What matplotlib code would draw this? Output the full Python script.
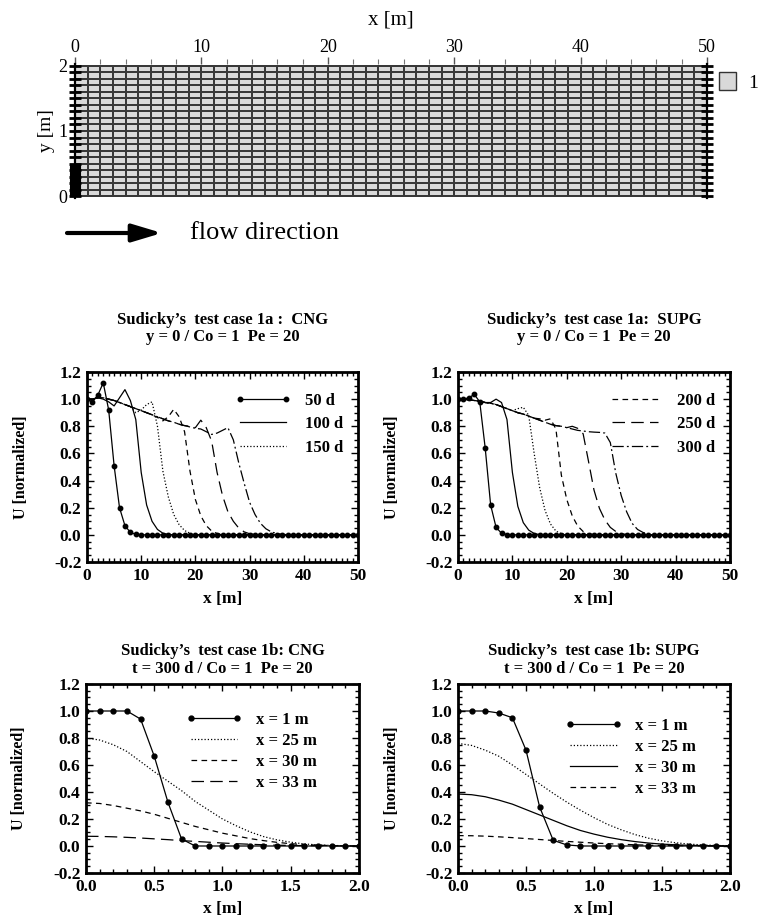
import numpy as np
import matplotlib
matplotlib.use('Agg')
import matplotlib.pyplot as plt
from matplotlib.patches import Patch
from matplotlib.colors import ListedColormap
from matplotlib.ticker import MultipleLocator, FormatStrFormatter

plt.rcParams['font.family'] = ['Liberation Serif', 'DejaVu Serif']
plt.rcParams['axes.unicode_minus'] = False

# ---------------- data ----------------
# mesh (top panel)
mesh_x_nodes = [0, 1, 2, 3, 4, 5, 6, 7, 8, 9, 10, 11, 12, 13, 14, 15, 16, 17, 18, 19, 20,
                21, 22, 23, 24, 25, 26, 27, 28, 29, 30, 31, 32, 33, 34, 35, 36, 37, 38, 39, 40,
                41, 42, 43, 44, 45, 46, 47, 48, 49, 50]
mesh_y_nodes = [0.0, 0.1, 0.2, 0.3, 0.4, 0.5, 0.6, 0.7, 0.8, 0.9, 1.0,
                1.1, 1.2, 1.3, 1.4, 1.5, 1.6, 1.7, 1.8, 1.9, 2.0]
material_ids = np.ones((len(mesh_y_nodes) - 1, len(mesh_x_nodes) - 1))
material_labels = ['1']
source_x = [0.0, 0.0]
source_y = [0.0, 0.5]

# test case 1a: profiles along y = 0
x_1a = [0, 1, 2, 3, 4, 5, 6, 7, 8, 9, 10, 11, 12, 13, 14, 15, 16, 17, 18, 19, 20,
        21, 22, 23, 24, 25, 26, 27, 28, 29, 30, 31, 32, 33, 34, 35, 36, 37, 38, 39, 40,
        41, 42, 43, 44, 45, 46, 47, 48, 49, 50]
times_1a = ['50 d', '100 d', '150 d', '200 d', '250 d', '300 d']

cng_50 = [1.00, 0.98, 1.03, 1.12, 0.92, 0.51, 0.20, 0.068, 0.018, 0.004, 0.0,
          0.0, 0.0, 0.0, 0.0, 0.0, 0.0, 0.0, 0.0, 0.0, 0.0, 0.0, 0.0, 0.0, 0.0, 0.0,
          0.0, 0.0, 0.0, 0.0, 0.0, 0.0, 0.0, 0.0, 0.0, 0.0, 0.0, 0.0, 0.0, 0.0, 0.0,
          0.0, 0.0, 0.0, 0.0, 0.0, 0.0, 0.0, 0.0, 0.0, 0.0]
cng_100 = [1.00, 1.00, 1.01, 1.00, 0.98, 0.95, 1.01, 1.07, 0.99, 0.85, 0.46,
           0.22, 0.10, 0.04, 0.012, 0.003, 0.0, 0.0, 0.0, 0.0, 0.0, 0.0, 0.0, 0.0, 0.0, 0.0,
           0.0, 0.0, 0.0, 0.0, 0.0, 0.0, 0.0, 0.0, 0.0, 0.0, 0.0, 0.0, 0.0, 0.0, 0.0,
           0.0, 0.0, 0.0, 0.0, 0.0, 0.0, 0.0, 0.0, 0.0, 0.0]
cng_150 = [1.00, 1.00, 1.01, 1.01, 1.00, 0.99, 0.975, 0.96, 0.945, 0.90, 0.92,
           0.96, 0.98, 0.80, 0.47, 0.28, 0.15, 0.075, 0.032, 0.012, 0.003,
           0.0, 0.0, 0.0, 0.0, 0.0, 0.0, 0.0, 0.0, 0.0, 0.0, 0.0, 0.0, 0.0, 0.0, 0.0,
           0.0, 0.0, 0.0, 0.0, 0.0, 0.0, 0.0, 0.0, 0.0, 0.0, 0.0, 0.0, 0.0, 0.0, 0.0]
cng_200 = [1.00, 1.00, 1.01, 1.01, 1.00, 0.99, 0.975, 0.96, 0.945, 0.93, 0.915,
           0.90, 0.885, 0.865, 0.84, 0.87, 0.925, 0.87, 0.76, 0.47, 0.26,
           0.14, 0.068, 0.028, 0.010, 0.003, 0.0, 0.0, 0.0, 0.0, 0.0,
           0.0, 0.0, 0.0, 0.0, 0.0, 0.0, 0.0, 0.0, 0.0, 0.0,
           0.0, 0.0, 0.0, 0.0, 0.0, 0.0, 0.0, 0.0, 0.0, 0.0]
cng_250 = [1.00, 1.00, 1.01, 1.01, 1.00, 0.99, 0.975, 0.96, 0.945, 0.93, 0.915,
           0.90, 0.885, 0.87, 0.855, 0.84, 0.83, 0.815, 0.805, 0.80, 0.79,
           0.845, 0.79, 0.69, 0.46, 0.29, 0.17, 0.10, 0.05, 0.022, 0.008,
           0.002, 0.0, 0.0, 0.0, 0.0, 0.0, 0.0, 0.0, 0.0, 0.0,
           0.0, 0.0, 0.0, 0.0, 0.0, 0.0, 0.0, 0.0, 0.0, 0.0]
cng_300 = [1.00, 1.00, 1.01, 1.01, 1.00, 0.99, 0.975, 0.96, 0.945, 0.93, 0.915,
           0.90, 0.885, 0.87, 0.855, 0.84, 0.83, 0.815, 0.805, 0.795, 0.785,
           0.78, 0.76, 0.74, 0.75, 0.77, 0.79, 0.70, 0.53, 0.38, 0.24,
           0.15, 0.085, 0.045, 0.022, 0.010, 0.004, 0.001, 0.0, 0.0, 0.0,
           0.0, 0.0, 0.0, 0.0, 0.0, 0.0, 0.0, 0.0, 0.0, 0.0]

supg_50 = [1.00, 1.00, 1.01, 1.035, 0.98, 0.64, 0.22, 0.055, 0.012, 0.002, 0.0,
           0.0, 0.0, 0.0, 0.0, 0.0, 0.0, 0.0, 0.0, 0.0, 0.0, 0.0, 0.0, 0.0, 0.0, 0.0,
           0.0, 0.0, 0.0, 0.0, 0.0, 0.0, 0.0, 0.0, 0.0, 0.0, 0.0, 0.0, 0.0, 0.0, 0.0,
           0.0, 0.0, 0.0, 0.0, 0.0, 0.0, 0.0, 0.0, 0.0, 0.0]
supg_100 = [1.00, 1.00, 0.995, 0.99, 0.985, 0.975, 0.975, 1.00, 0.975, 0.85, 0.46,
            0.21, 0.09, 0.035, 0.010, 0.002, 0.0, 0.0, 0.0, 0.0, 0.0,
            0.0, 0.0, 0.0, 0.0, 0.0, 0.0, 0.0, 0.0, 0.0, 0.0,
            0.0, 0.0, 0.0, 0.0, 0.0, 0.0, 0.0, 0.0, 0.0, 0.0,
            0.0, 0.0, 0.0, 0.0, 0.0, 0.0, 0.0, 0.0, 0.0, 0.0]
supg_150 = [1.00, 1.00, 0.995, 0.99, 0.985, 0.975, 0.97, 0.96, 0.945, 0.93, 0.915,
            0.93, 0.94, 0.88, 0.60, 0.35, 0.18, 0.08, 0.028, 0.008, 0.002,
            0.0, 0.0, 0.0, 0.0, 0.0, 0.0, 0.0, 0.0, 0.0, 0.0,
            0.0, 0.0, 0.0, 0.0, 0.0, 0.0, 0.0, 0.0, 0.0, 0.0,
            0.0, 0.0, 0.0, 0.0, 0.0, 0.0, 0.0, 0.0, 0.0, 0.0]
supg_200 = [1.00, 1.00, 0.995, 0.99, 0.985, 0.975, 0.97, 0.96, 0.945, 0.93, 0.915,
            0.90, 0.89, 0.875, 0.86, 0.855, 0.845, 0.855, 0.78, 0.44, 0.26,
            0.14, 0.065, 0.025, 0.008, 0.002, 0.0, 0.0, 0.0, 0.0, 0.0,
            0.0, 0.0, 0.0, 0.0, 0.0, 0.0, 0.0, 0.0, 0.0, 0.0,
            0.0, 0.0, 0.0, 0.0, 0.0, 0.0, 0.0, 0.0, 0.0, 0.0]
supg_250 = [1.00, 1.00, 0.995, 0.99, 0.985, 0.975, 0.97, 0.96, 0.945, 0.93, 0.915,
            0.90, 0.89, 0.875, 0.86, 0.845, 0.83, 0.815, 0.805, 0.80, 0.79,
            0.80, 0.785, 0.745, 0.54, 0.33, 0.195, 0.11, 0.055, 0.025, 0.009,
            0.003, 0.0, 0.0, 0.0, 0.0, 0.0, 0.0, 0.0, 0.0, 0.0,
            0.0, 0.0, 0.0, 0.0, 0.0, 0.0, 0.0, 0.0, 0.0, 0.0]
supg_300 = [1.00, 1.00, 0.995, 0.99, 0.985, 0.975, 0.97, 0.96, 0.945, 0.93, 0.915,
            0.90, 0.89, 0.875, 0.86, 0.845, 0.83, 0.815, 0.805, 0.80, 0.79,
            0.78, 0.77, 0.765, 0.76, 0.757, 0.755, 0.75, 0.68, 0.455, 0.29,
            0.17, 0.085, 0.04, 0.018, 0.006, 0.002, 0.0, 0.0, 0.0, 0.0,
            0.0, 0.0, 0.0, 0.0, 0.0, 0.0, 0.0, 0.0, 0.0, 0.0]

# test case 1b: transverse profiles at t = 300 d
y_1b = [0.0, 0.1, 0.2, 0.3, 0.4, 0.5, 0.6, 0.7, 0.8, 0.9, 1.0,
        1.1, 1.2, 1.3, 1.4, 1.5, 1.6, 1.7, 1.8, 1.9, 2.0]
labels_1b = ['x = 1 m', 'x = 25 m', 'x = 30 m', 'x = 33 m']

cng_x1 = [1.0, 1.0, 1.0, 1.0, 0.94, 0.665, 0.325, 0.052, 0.0, 0.0, 0.0,
          0.0, 0.0, 0.0, 0.0, 0.0, 0.0, 0.0, 0.0, 0.0, 0.0]
cng_x25 = [0.80, 0.785, 0.75, 0.70, 0.625, 0.55, 0.48, 0.41, 0.33, 0.265, 0.20,
           0.15, 0.105, 0.07, 0.045, 0.028, 0.015, 0.008, 0.004, 0.002, 0.0]
cng_x30 = [0.32, 0.315, 0.30, 0.28, 0.26, 0.235, 0.205, 0.175, 0.145, 0.12, 0.095,
           0.075, 0.055, 0.04, 0.027, 0.017, 0.010, 0.006, 0.003, 0.001, 0.0]
cng_x33 = [0.072, 0.071, 0.068, 0.064, 0.059, 0.053, 0.047, 0.040, 0.034, 0.028, 0.022,
           0.017, 0.013, 0.009, 0.006, 0.004, 0.003, 0.002, 0.001, 0.0, 0.0]

supg_x1 = [1.0, 1.0, 1.0, 0.985, 0.95, 0.71, 0.29, 0.042, 0.008, 0.0, 0.0,
           0.0, 0.0, 0.0, 0.0, 0.0, 0.0, 0.0, 0.0, 0.0, 0.0]
supg_x25 = [0.76, 0.745, 0.71, 0.665, 0.60, 0.53, 0.46, 0.39, 0.325, 0.265, 0.21,
            0.16, 0.12, 0.085, 0.058, 0.038, 0.024, 0.014, 0.008, 0.004, 0.002]
supg_x30 = [0.385, 0.38, 0.365, 0.34, 0.31, 0.27, 0.23, 0.19, 0.15, 0.115, 0.088,
            0.065, 0.047, 0.033, 0.022, 0.014, 0.009, 0.005, 0.003, 0.001, 0.0]
supg_x33 = [0.077, 0.076, 0.073, 0.068, 0.062, 0.055, 0.048, 0.041, 0.034, 0.028, 0.022,
            0.017, 0.013, 0.009, 0.006, 0.004, 0.003, 0.002, 0.001, 0.0, 0.0]

# ---------------- styles ----------------
SOLID = '-'
DOT = (0, (1.0, 1.6))
DASH = (0, (4.5, 3.5))
LDASH = (0, (10, 5))
DASHDOT = (0, (9, 2.5, 1.5, 2.5))
LW = 0.9

W, H = 762, 922
fig = plt.figure(figsize=(W / 100, H / 100), dpi=100)


def ax_px(l, r, t, b):
    return fig.add_axes([l / W, 1 - b / H, (r - l) / W, (b - t) / H])


# ---------------- mesh panel ----------------
ax0 = ax_px(75, 707, 64, 198)
ax0.pcolormesh(mesh_x_nodes, mesh_y_nodes, material_ids,
               cmap=ListedColormap(['#d9d9d9']), edgecolors='#383838', linewidth=1.15)
ax0.plot(source_x, source_y, color='black', lw=8, solid_capstyle='butt', clip_on=False, zorder=5)
ax0.set_xlim(0, 50)
ax0.set_ylim(-0.03, 2.03)
for s in ['top', 'bottom']:
    ax0.spines[s].set_visible(False)
for s in ['left', 'right']:
    ax0.spines[s].set_linewidth(1.6)
ax0.xaxis.tick_top()
ax0.xaxis.set_label_position('top')
ax0.xaxis.set_major_locator(MultipleLocator(10))
ax0.xaxis.set_minor_locator(MultipleLocator(2))
ax0.tick_params(axis='x', which='major', direction='out', length=5, width=1.0, color='#555555',
                labelsize=13, pad=1)
ax0.tick_params(axis='x', which='minor', direction='out', length=3.5, width=0.8, color='#777777')
ax0.yaxis.set_major_locator(MultipleLocator(1))
ax0.yaxis.set_minor_locator(MultipleLocator(0.1))
ax0.tick_params(axis='y', which='both', direction='inout', length=9, width=2.0,
                left=True, right=True, labelsize=13, pad=1)
ax0.set_xlabel('x [m]', fontsize=15, labelpad=10)
ax0.set_ylabel('y [m]', fontsize=14, labelpad=2)
ax0.legend(handles=[Patch(facecolor='#d9d9d9', edgecolor='#333333', label=material_labels[0])],
           loc='upper left', bbox_to_anchor=(1.0, 1.03), frameon=False, fontsize=14,
           handlelength=0.9, handleheight=1.1, handletextpad=0.6, borderaxespad=0.2)

# flow direction arrow
ax0.annotate('', xy=(162, H - 233), xytext=(67, H - 233), xycoords='figure pixels',
             textcoords='figure pixels',
             arrowprops=dict(arrowstyle='-|>,head_length=1.5,head_width=0.45', lw=3,
                             color='black', shrinkA=0, shrinkB=0, mutation_scale=12))
fig.text(190 / W, 1 - 233 / H, 'flow direction', fontsize=19, va='center', ha='left')


# ---------------- line plots ----------------
def style_axes(ax, xlim, xmaj, xmin, xfmt, ylab_x, xlab_y):
    ax.set_xlim(*xlim)
    ax.set_ylim(-0.2, 1.2)
    ax.xaxis.set_major_locator(MultipleLocator(xmaj))
    ax.xaxis.set_minor_locator(MultipleLocator(xmin))
    ax.yaxis.set_major_locator(MultipleLocator(0.2))
    ax.yaxis.set_minor_locator(MultipleLocator(0.05))
    ax.xaxis.set_major_formatter(FormatStrFormatter(xfmt))
    ax.yaxis.set_major_formatter(FormatStrFormatter('%.1f'))
    ax.tick_params(which='both', direction='in', top=True, right=True, width=1.0)
    ax.tick_params(which='major', length=5, labelsize=12.5, pad=4)
    ax.tick_params(which='minor', length=3)
    for lab in ax.get_xticklabels() + ax.get_yticklabels():
        lab.set_fontweight('bold')
    for s in ax.spines.values():
        s.set_linewidth(2.0)
    ax.set_xlabel('x [m]', fontsize=12.5, fontweight='bold')
    ax.set_ylabel('U [normalized]', fontsize=11.5, fontweight='bold')
    ax.yaxis.set_label_coords(ylab_x, 0.5)
    ax.xaxis.set_label_coords(0.5, xlab_y)


leg_prop = {'weight': 'bold', 'size': 12}
TITLE_FS = 12

# panel 1a CNG
ax1 = ax_px(87, 358, 372, 562)
series_cng = [cng_50, cng_100, cng_150, cng_200, cng_250, cng_300]
series_supg = [supg_50, supg_100, supg_150, supg_200, supg_250, supg_300]
styles_1a = [SOLID, SOLID, DOT, DASH, LDASH, DASHDOT]

lines1 = []
for vals, ls, lab in zip(series_cng, styles_1a, times_1a):
    if lab == '50 d':
        l, = ax1.plot(x_1a, vals, color='black', lw=LW, ls=ls, marker='o', ms=3.2, label=lab)
    else:
        l, = ax1.plot(x_1a, vals, color='black', lw=LW, ls=ls, label=lab)
    lines1.append(l)
style_axes(ax1, (0, 50), 10, 1, '%d', -0.215, -0.15)
ax1.set_title('Sudicky\u2019s  test case 1a :  CNG\ny = 0 / Co = 1  Pe = 20',
              fontsize=TITLE_FS, fontweight='bold', pad=22, linespacing=1.15)
ax1.legend(handles=lines1[:3], loc='upper right', bbox_to_anchor=(1.0, 0.97), frameon=False,
           prop=leg_prop, handlelength=3.4, numpoints=2, labelspacing=0.45, handletextpad=0.8)

# panel 1a SUPG
ax2 = ax_px(458, 730, 372, 562)
lines2 = []
for vals, ls, lab in zip(series_supg, styles_1a, times_1a):
    if lab == '50 d':
        l, = ax2.plot(x_1a, vals, color='black', lw=LW, ls=ls, marker='o', ms=3.2, label=lab)
    else:
        l, = ax2.plot(x_1a, vals, color='black', lw=LW, ls=ls, label=lab)
    lines2.append(l)
style_axes(ax2, (0, 50), 10, 1, '%d', -0.215, -0.15)
ax2.set_title('Sudicky\u2019s  test case 1a:  SUPG\ny = 0 / Co = 1  Pe = 20',
              fontsize=TITLE_FS, fontweight='bold', pad=22, linespacing=1.15)
ax2.legend(handles=lines2[3:], loc='upper right', bbox_to_anchor=(1.0, 0.97), frameon=False,
           prop=leg_prop, handlelength=3.4, numpoints=2, labelspacing=0.45, handletextpad=0.8)

# panel 1b CNG
ax3 = ax_px(86, 359, 684, 873)
series_cng_b = [cng_x1, cng_x25, cng_x30, cng_x33]
styles_cng_b = [SOLID, DOT, DASH, LDASH]
lines3 = []
for vals, ls, lab in zip(series_cng_b, styles_cng_b, labels_1b):
    if lab == 'x = 1 m':
        l, = ax3.plot(y_1b, vals, color='black', lw=LW, ls=ls, marker='o', ms=3.5, label=lab)
    else:
        l, = ax3.plot(y_1b, vals, color='black', lw=LW, ls=ls, label=lab)
    lines3.append(l)
style_axes(ax3, (0, 2), 0.5, 0.1, '%.1f', -0.215, -0.15)
ax3.set_title('Sudicky\u2019s  test case 1b: CNG\nt = 300 d / Co = 1  Pe = 20',
              fontsize=TITLE_FS, fontweight='bold', pad=8, linespacing=1.15)
ax3.legend(handles=lines3, loc='upper right', bbox_to_anchor=(0.9, 0.93), frameon=False,
           prop=leg_prop, handlelength=3.4, numpoints=2, labelspacing=0.3, handletextpad=0.8)

# panel 1b SUPG
ax4 = ax_px(458, 730, 684, 873)
series_supg_b = [supg_x1, supg_x25, supg_x30, supg_x33]
styles_supg_b = [SOLID, DOT, SOLID, DASH]
lines4 = []
for vals, ls, lab in zip(series_supg_b, styles_supg_b, labels_1b):
    if lab == 'x = 1 m':
        l, = ax4.plot(y_1b, vals, color='black', lw=LW, ls=ls, marker='o', ms=3.5, label=lab)
    else:
        l, = ax4.plot(y_1b, vals, color='black', lw=LW, ls=ls, label=lab)
    lines4.append(l)
style_axes(ax4, (0, 2), 0.5, 0.1, '%.1f', -0.215, -0.15)
ax4.set_title('Sudicky\u2019s  test case 1b: SUPG\nt = 300 d / Co = 1  Pe = 20',
              fontsize=TITLE_FS, fontweight='bold', pad=8, linespacing=1.15)
ax4.legend(handles=lines4, loc='upper right', bbox_to_anchor=(0.93, 0.9), frameon=False,
           prop=leg_prop, handlelength=3.4, numpoints=2, labelspacing=0.3, handletextpad=0.8)

fig.savefig('out.png', dpi=100)
